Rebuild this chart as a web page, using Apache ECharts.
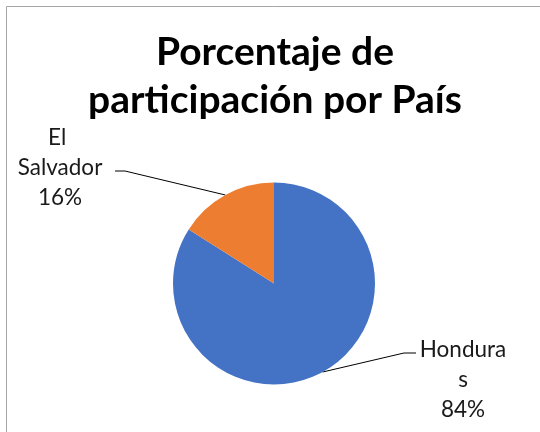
<!DOCTYPE html>
<html>
<head>
<meta charset="utf-8">
<script src="https://cdn.jsdelivr.net/npm/echarts@6/dist/echarts.min.js"></script>
<style>html,body{margin:0;padding:0;background:#fff;}#c{width:540px;height:432px;}</style>
</head>
<body>
<div id="c"></div>
<script>
const titleText = 'Porcentaje de\nparticipación por País';
const categories = ['Honduras', 'El Salvador'];
const values = [84, 16];
const colors = ['#4472C4', '#ED7D31'];

const chart = echarts.init(document.getElementById('c'), null, {renderer: 'canvas'});
const wrapCfg = {
  'Honduras': {width: 88, overflow: 'breakAll'},
  'El Salvador': {width: 98, overflow: 'break'}
};
const labelPos = {
  'Honduras': {cx: 463, cy: 380, side: 'left', lineY: 353},
  'El Salvador': {cx: 60, cy: 168, side: 'right', lineY: 171}
};

chart.setOption({
  animation: false,
  backgroundColor: '#ffffff',
  graphic: [{
    type: 'rect', silent: true, z: -1,
    shape: {x: 6.5, y: 6.5, width: 700, height: 700},
    style: {fill: 'none', stroke: '#a6a6a6', lineWidth: 1}
  }],
  title: {
    text: titleText,
    left: 275, top: 28, textAlign: 'center', padding: 0,
    textStyle: {fontFamily: 'Lato', fontSize: 39, fontWeight: 'bold', color: '#000', lineHeight: 48}
  },
  series: [{
    type: 'pie',
    center: [274, 283.5],
    radius: [0, 101],
    startAngle: 90,
    clockwise: true,
    data: categories.map((n, i) => ({
      name: n, value: values[i],
      itemStyle: {color: colors[i]},
      label: wrapCfg[n]
    })),
    itemStyle: {borderWidth: 0},
    label: {
      show: true,
      formatter: '{b}\n{d}%',
      fontFamily: 'Lato', fontSize: 22.5, color: '#1a1a1a',
      lineHeight: 30, align: 'center'
    },
    labelLine: {show: true, lineStyle: {color: '#000', width: 1}, smooth: false},
    labelLayout: function (p) {
      const name = categories[p.dataIndex];
      const pos = labelPos[name];
      const w = p.labelRect.width;
      const p0 = p.labelLinePoints ? p.labelLinePoints[0] : [0, 0];
      let ax, bx;
      if (pos.side === 'right') { ax = pos.cx + w / 2 + 6; bx = ax + 10; }
      else { ax = pos.cx - w / 2 - 3; bx = ax - 12; }
      return {
        x: pos.cx, y: pos.cy, align: 'center', verticalAlign: 'middle',
        labelLinePoints: [p0, [bx, pos.lineY], [ax, pos.lineY]]
      };
    }
  }]
});
</script>
</body>
</html>
